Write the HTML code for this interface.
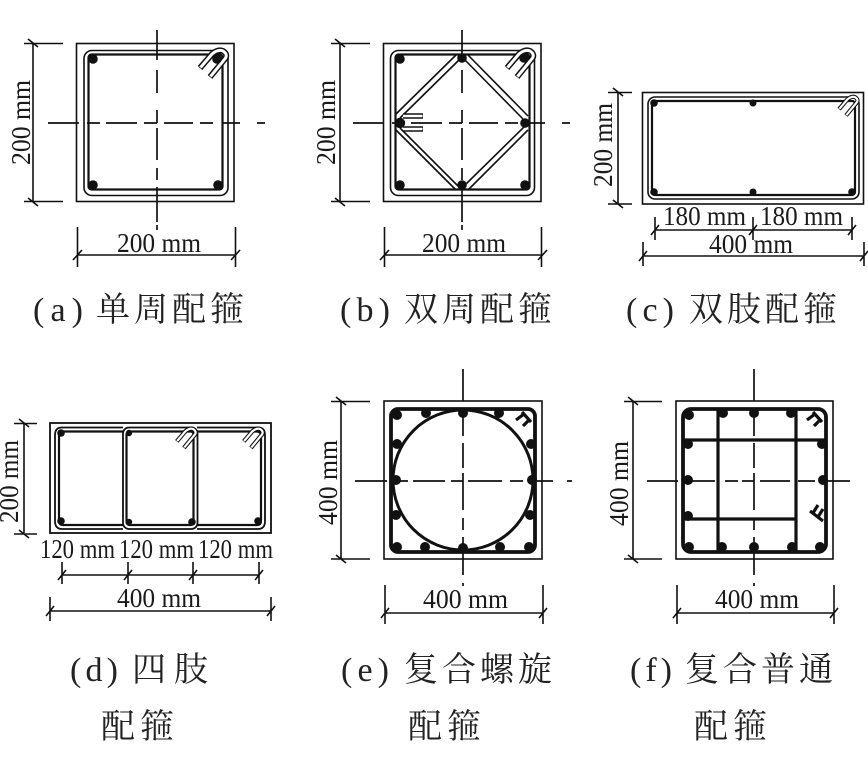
<!DOCTYPE html>
<html><head><meta charset="utf-8">
<style>
html,body{margin:0;padding:0;background:#fff}
svg{display:block}
.n{font-family:"Liberation Serif",serif;font-size:27px;fill:#1a1a1a}
.c{font-family:"Liberation Serif","Noto Serif CJK SC",serif;font-size:34px;fill:#222}
</style></head>
<body>
<svg width="868" height="765" viewBox="0 0 868 765" xmlns="http://www.w3.org/2000/svg" fill="none" stroke="#111">
<defs>
<g id="hook"><path d="M-17 13L-5 -1Q1 -6 6 -4Q12 0 7 5L-7 22" stroke="#111" stroke-width="6"/><path d="M-16.500 12.500L-5 -1Q1 -6 6 -4Q12 0 7 5L-6.500 21.500" stroke="#fff" stroke-width="3"/></g>
<path id="cross1" d="M0 -93V-63M0 -53V-30M0 -13V0M0 5V37M0 45V57M0 64V99M0 102V107M-109 0H-78M-70 0H-57M-51 0H-20M-13 0H0M7 0H36M43 0H56M66 0H83M100 0H108" stroke-width="1.700"/>
<path id="hkt" d="M-3 -6L6 4M-1 -4L-9 2M4 2L-2 8" stroke-width="3.200"/>
</defs>

<!-- (a) -->
<g stroke-width="1.600">
<rect x="76.500" y="43.500" width="157.500" height="158"/>
<rect x="84" y="50.500" width="144" height="145" rx="8"/>
<rect x="88.500" y="54.500" width="134" height="135" rx="3" stroke-width="2.200"/>
<use href="#cross1" x="157" y="123"/>
<path d="M33 43V202M24 43.500H63M24 201.500H63M77.500 227V267M235.500 227V267M77 255H236M28 39L38 47M28 198L38 206M73 260L82 250M231 260L240 250"/>
</g>
<use href="#hook" x="217" y="55"/>
<g fill="#111" stroke="none"><circle cx="93" cy="59" r="4.800"/><circle cx="217" cy="59" r="4.800"/><circle cx="93" cy="185" r="4.800"/><circle cx="218" cy="185" r="4.800"/></g>
<text class="n" stroke="none" x="117" y="252" textLength="84" lengthAdjust="spacingAndGlyphs">200 mm</text>
<text class="n" stroke="none" transform="translate(30 165) rotate(-90)" textLength="85" lengthAdjust="spacingAndGlyphs">200 mm</text>

<!-- (b) -->
<g stroke-width="1.600">
<rect x="383.500" y="43.500" width="157.500" height="158"/>
<rect x="390.500" y="50.500" width="144" height="145" rx="8"/>
<rect x="395.500" y="54.500" width="134" height="135" rx="3" stroke-width="2.200"/>
<use href="#cross1" x="462" y="123"/>
<path d="M340 43V202M331 43.500H370M331 201.500H370M384.500 227V267M541.500 227V267M384 255H542M335 39L345 47M335 198L345 206M380 260L389 250M538 260L547 250"/>
<path d="M396 114L456 55M400 118L460 59M468 55L528 116M464 59L524 120M396 130L456 190M400 128L460 188M468 190L528 130M464 186L525 126"/>
</g>
<use href="#hook" x="524" y="55"/>
<path d="M403 116H423M403 129H423" stroke="#111" stroke-width="5.500"/><path d="M403 116H422.500M403 129H422.500" stroke="#fff" stroke-width="2.500"/>
<g fill="#111" stroke="none"><circle cx="400" cy="59" r="4.800"/><circle cx="462" cy="58" r="4.800"/><circle cx="524" cy="58" r="4.800"/><circle cx="400" cy="123" r="5.200"/><circle cx="525" cy="123" r="4.800"/><circle cx="400" cy="185" r="4.800"/><circle cx="462" cy="185" r="4.800"/><circle cx="525" cy="185" r="4.800"/></g>
<text class="n" stroke="none" x="422" y="252" textLength="84" lengthAdjust="spacingAndGlyphs">200 mm</text>
<text class="n" stroke="none" transform="translate(335 165) rotate(-90)" textLength="85" lengthAdjust="spacingAndGlyphs">200 mm</text>

<!-- (c) -->
<g stroke-width="1.600">
<rect x="642.500" y="92.500" width="221" height="111.500"/>
<rect x="648" y="97" width="211" height="102" rx="7"/>
<rect x="652" y="101" width="203" height="94" rx="3" stroke-width="2.200"/>
<path d="M618 92V204M608 92.500H632M608 204H632M655 217V240M753 217V240M852 217V240M655 230H852M643 242V266M864 242V266M643 256H864M613 88L623 96M613 200L623 208M651 235L659 225M749 235L757 225M848 235L856 225M639 261L647 251M860 261L868 251"/>
</g>
<g transform="translate(851 100) scale(.7)"><use href="#hook"/></g>
<g fill="#111" stroke="none"><circle cx="654" cy="103" r="3.800"/><circle cx="753" cy="103" r="3.500"/><circle cx="654" cy="192" r="3.800"/><circle cx="753" cy="192" r="3.500"/><circle cx="852" cy="192" r="3.800"/></g>
<text class="n" stroke="none" x="663" y="225" textLength="83" lengthAdjust="spacingAndGlyphs">180 mm</text>
<text class="n" stroke="none" x="760" y="225" textLength="83" lengthAdjust="spacingAndGlyphs">180 mm</text>
<text class="n" stroke="none" x="709" y="253" textLength="84" lengthAdjust="spacingAndGlyphs">400 mm</text>
<text class="n" stroke="none" transform="translate(612 187) rotate(-90)" textLength="84" lengthAdjust="spacingAndGlyphs">200 mm</text>

<!-- (d) -->
<g stroke-width="1.800">
<rect x="50" y="423" width="221" height="110"/>
<path d="M123 427.500H62Q55 427.500 55 435V521Q55 529 62 529H123"/>
<path d="M126 431.500H63Q59 431.500 59 436V521Q59 525 63 525H126" stroke-width="2.200"/>
<path d="M197 427.500H258Q265 427.500 265 435V521Q265 529 258 529H197"/>
<path d="M197 431.500H257Q261 431.500 261 436V521Q261 525 257 525H197" stroke-width="2.200"/>
<rect x="123" y="427.500" width="74.500" height="101.500" rx="6" fill="#fff"/>
<rect x="126.500" y="431.500" width="67" height="93.500" rx="3" stroke-width="2.200"/>
<path d="M24 423V533M14 423.500H37M14 534H37M19 419L29 427M19 530L29 538M62 562V584M128 562V584M193 562V584M259 562V584M62 575H259M50 597V621M271 597V621M50 611H271M58 580L66 570M124 580L132 570M189 580L197 570M255 580L263 570M46 616L54 606M267 616L275 606" stroke-width="1.600"/>
</g>
<g transform="translate(189 432) scale(.72)"><use href="#hook"/></g>
<g transform="translate(256 432) scale(.72)"><use href="#hook"/></g>
<g fill="#111" stroke="none"><circle cx="61" cy="433" r="3.800"/><circle cx="129" cy="433" r="3.200"/><circle cx="61" cy="521" r="3.800"/><circle cx="129" cy="522" r="3.200"/><circle cx="192" cy="522" r="3.800"/><circle cx="258" cy="521" r="3.800"/></g>
<text class="n" stroke="none" x="40" y="558" textLength="75" lengthAdjust="spacingAndGlyphs">120 mm</text>
<text class="n" stroke="none" x="119" y="558" textLength="75" lengthAdjust="spacingAndGlyphs">120 mm</text>
<text class="n" stroke="none" x="198" y="558" textLength="75" lengthAdjust="spacingAndGlyphs">120 mm</text>
<text class="n" stroke="none" x="117" y="607" textLength="84" lengthAdjust="spacingAndGlyphs">400 mm</text>
<text class="n" stroke="none" transform="translate(18 523) rotate(-90)" textLength="83" lengthAdjust="spacingAndGlyphs">200 mm</text>

<!-- (e) -->
<g stroke-width="1.600">
<rect x="384" y="401" width="158" height="158"/>
<path d="M463 369V401M463 415V436M463 443V468M463 473V510M463 518V530M463 537V575M463 583V586M355 481H387M393 481H408M413 481H445M451 481H463M468 481H502M510 481H523M537 481H553M567 481H572" stroke-width="1.700"/>
<rect x="391" y="409" width="144" height="143" rx="7" stroke-width="3.800"/>
<circle cx="463" cy="480" r="70" stroke-width="3"/>
<path d="M341 401V559M331 401.500H370M331 559H370M385 585V624M543 585V624M385 613H543M336 397L346 405M336 555L346 563M381 618L389 608M539 618L547 608"/>
</g>
<use href="#hkt" x="525" y="418"/>
<g fill="#111" stroke="none"><circle cx="397" cy="415" r="5"/><circle cx="426" cy="413" r="5"/><circle cx="463" cy="413" r="5"/><circle cx="499" cy="413" r="5"/><circle cx="531" cy="444" r="5"/><circle cx="532" cy="480" r="5"/><circle cx="530" cy="515" r="5"/><circle cx="529" cy="547" r="5"/><circle cx="500" cy="547" r="5"/><circle cx="463" cy="548" r="5"/><circle cx="425" cy="547" r="5"/><circle cx="397" cy="547" r="5"/><circle cx="396" cy="515" r="5"/><circle cx="396" cy="480" r="5"/><circle cx="397" cy="444" r="5"/></g>
<text class="n" stroke="none" x="423" y="608" textLength="85" lengthAdjust="spacingAndGlyphs">400 mm</text>
<text class="n" stroke="none" transform="translate(337 525) rotate(-90)" textLength="85" lengthAdjust="spacingAndGlyphs">400 mm</text>

<!-- (f) -->
<g stroke-width="1.600">
<rect x="676" y="401" width="157" height="158"/>
<path d="M754 369V401M754 415V436M754 443V468M754 473V510M754 518V530M754 537V575M754 583V586M647 481H678M692 481H715M725 481H738M742 481H754M760 481H790M798 481H815M827 481H850" stroke-width="1.700"/>
<rect x="683" y="409" width="143" height="143" rx="8" stroke-width="3.800"/>
<path d="M718 409V552M796 409V552M683 440H826M683 519H796" stroke-width="3.200"/>
<path d="M633 401V559M624 401.500H662M624 559H662M677 585V624M834 585V624M677 613H834M628 397L638 405M628 555L638 563M673 618L681 608M830 618L838 608"/>
</g>
<use href="#hkt" x="816" y="418"/>
<path d="M810 511L823 521M813 513L818 505M818 517L823 509" stroke-width="3.200"/>
<g fill="#111" stroke="none"><circle cx="689" cy="415" r="5"/><circle cx="723" cy="413" r="5"/><circle cx="754" cy="413" r="5"/><circle cx="791" cy="413" r="5"/><circle cx="822" cy="444" r="5"/><circle cx="823" cy="480" r="5"/><circle cx="820" cy="547" r="5"/><circle cx="792" cy="547" r="5"/><circle cx="754" cy="547" r="5"/><circle cx="722" cy="547" r="5"/><circle cx="689" cy="547" r="5"/><circle cx="688" cy="516" r="5"/><circle cx="688" cy="480" r="5"/><circle cx="688" cy="444" r="5"/></g>
<text class="n" stroke="none" x="715" y="608" textLength="84" lengthAdjust="spacingAndGlyphs">400 mm</text>
<text class="n" stroke="none" transform="translate(628 526) rotate(-90)" textLength="85" lengthAdjust="spacingAndGlyphs">400 mm</text>

<!-- captions -->
<g stroke="none">
<text class="c" x="33" y="321" textLength="50">(a)</text>
<text class="c" x="96" y="321" textLength="148">单周配箍</text>
<text class="c" x="340" y="321" textLength="50">(b)</text>
<text class="c" x="404" y="321" textLength="148">双周配箍</text>
<text class="c" x="626" y="321" textLength="48">(c)</text>
<text class="c" x="689" y="321" textLength="148">双肢配箍</text>
<text class="c" x="70" y="681" textLength="48">(d)</text>
<text class="c" x="132" y="681" textLength="76">四肢</text>
<text class="c" x="101" y="738" textLength="73">配箍</text>
<text class="c" x="341" y="681" textLength="48">(e)</text>
<text class="c" x="404" y="681" textLength="148">复合螺旋</text>
<text class="c" x="408" y="738" textLength="73">配箍</text>
<text class="c" x="630" y="681" textLength="42">(f)</text>
<text class="c" x="685" y="681" textLength="148">复合普通</text>
<text class="c" x="694" y="738" textLength="73">配箍</text>
</g>
</svg>
</body></html>
